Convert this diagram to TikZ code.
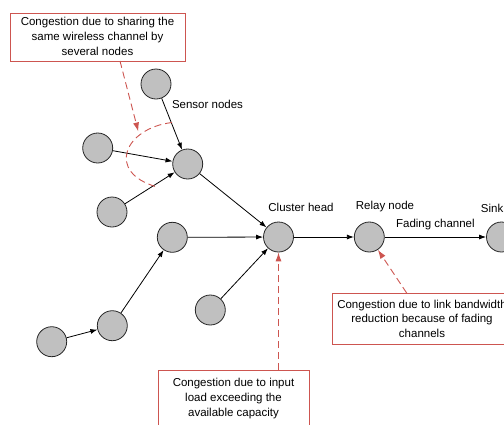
\documentclass[tikz,border=0pt]{standalone}
\usepackage{fontspec}
\setmainfont{Liberation Sans}
\usetikzlibrary{arrows.meta}
\definecolor{cred}{RGB}{205,85,80}
\definecolor{cgray}{RGB}{192,192,192}
\begin{document}
\begin{tikzpicture}[x=1pt,y=-1pt,
  every node/.style={font=\fontsize{11.5}{14.8}\selectfont},
  nd/.style={circle,draw=black!85,line width=0.8pt,fill=cgray,minimum size=30pt,inner sep=0pt},
  lbl/.style={inner sep=0pt,align=center},
  blk/.style={draw=black,line width=0.8pt,-{Latex[length=7pt,width=5pt]}},
  rdash/.style={draw=cred,line width=0.9pt,dash pattern=on 7pt off 4pt},
  rarr/.style={rdash,-{Latex[length=9pt,width=6pt]}},
  rbox/.style={draw=cred,line width=0.8pt}]
\useasboundingbox (0,0) rectangle (504,424);
% nodes
\node[nd] (s1) at (156,84) {};
\node[nd] (s2) at (97.7,148) {};
\node[nd] (s3) at (112,212) {};
\node[nd] (a) at (187.7,164) {};
\node[nd] (ch) at (278.5,237) {};
\node[nd] (relay) at (369.3,237) {};
\node[nd] (sink) at (501.5,237) {};
\node[nd] (n1) at (172.3,237.3) {};
\node[nd] (n2) at (112.3,325.7) {};
\node[nd] (n3) at (51.7,341.7) {};
\node[nd] (n4) at (210.3,310) {};
% labels
\node[lbl] (lsensor) at (207.5,104) {Sensor nodes};
\node[lbl] (lch) at (301,207.5) {Cluster head};
\node[lbl] (lrelay) at (385,207) {Relay node};
\node[lbl,anchor=west] (lsink) at (480.7,208) {Sink};
% black arrows
\draw[blk] (s1) -- (a);
\draw[blk] (s2) -- (a);
\draw[blk] (s3) -- (a);
\draw[blk] (a) -- (ch);
\draw[blk] (n1) -- (ch);
\draw[blk] (n4) -- (ch);
\draw[blk] (ch) -- (relay);
\draw[blk] (relay) -- node[lbl,above=7pt] (lfade) {Fading channel} (sink);
\draw[blk] (n3) -- (n2);
\draw[blk] (n2) -- (n1);
% boxes
\draw[rbox] (10,13) rectangle (185,61);
\node[lbl] (tbox) at (97.5,36.5) {Congestion due to sharing the\\same wireless channel by\\several nodes};
\draw[rbox] (332,293) rectangle (512,344);
\node[lbl] (rbox) at (422,318.7) {Congestion due to link bandwidth\\reduction because of fading\\channels};
\draw[rbox] (158,440) -- (158,370) -- (309,370) -- (309,440);
\node[lbl] (bbox) at (233.5,398.5) {Congestion due to input\\load exceeding the\\available capacity};
% red dashed
\coordinate (t0) at (120,61);
\coordinate (t1) at (138.3,131.5);
\draw[rarr] (t0) -- (t1);
\draw[rdash] (172,122.5) .. controls (125,128) and (105,172) .. (157,187);
\coordinate (r0) at (406.7,293);
\draw[rarr] (r0) -- (relay);
\coordinate (b0) at (278.5,370);
\draw[rarr] (b0) -- (ch);
\end{tikzpicture}
\end{document}
